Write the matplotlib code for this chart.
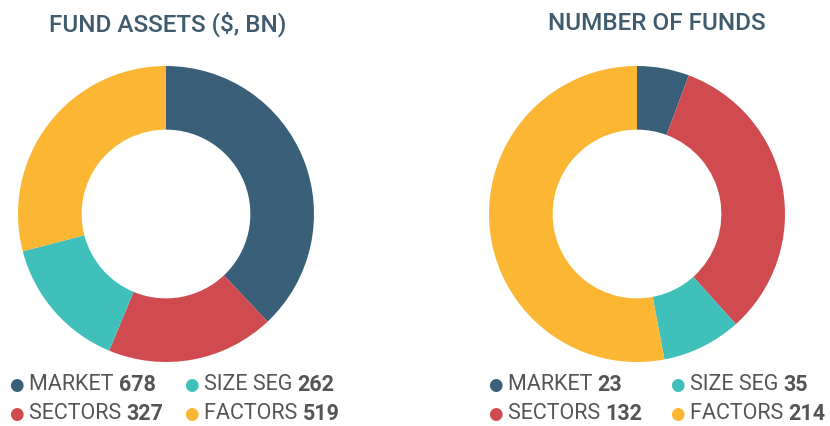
import matplotlib.pyplot as plt

categories = ["MARKET", "SECTORS", "SIZE SEG", "FACTORS"]
colors = ["#3a6079", "#d04b4f", "#3fc0bb", "#fbb634"]

assets = [678, 327, 262, 519]
funds = [23, 132, 35, 214]

titles = ["FUND ASSETS ($, BN)", "NUMBER OF FUNDS"]

# legend order in the picture: market, size seg / sectors, factors
legend_order = [0, 2, 1, 3]

plt.rcParams['font.family'] = ['Roboto', 'DejaVu Sans']

W, H = 830, 427
fig = plt.figure(figsize=(W / 100, H / 100), dpi=100)


def px_axes(x0, y0, w, h):
    return fig.add_axes([x0 / W, 1 - (y0 + h) / H, w / W, h / H])


def donut(values, cx, title, title_x, leg_x, col2_dx):
    ax = px_axes(cx - 148, 67, 296, 296)
    ax.pie(values, colors=colors, startangle=90, counterclock=False,
           radius=1, wedgeprops=dict(width=0.43, linewidth=0))
    ax.set_xlim(-1, 1)
    ax.set_ylim(-1, 1)
    ax.set_aspect('equal')
    ax.axis('off')

    fig.text(title_x / W, 1 - 24 / H, title, ha='center', va='center',
             fontsize=17.5, fontweight='medium', color="#3f5b6d")

    rows = [385, 414]
    for k, i in enumerate(legend_order):
        r, c = divmod(k, 2)
        x = leg_x + c * col2_dx
        y = rows[r]
        fig.text(x / W, 1 - y / H, "\u25CF", ha='center', va='center',
                 fontsize=12, color=colors[i], family='DejaVu Sans')
        t = fig.text((x + 13) / W, 1 - y / H, categories[i] + " ", ha='left',
                     va='center', fontsize=15.5, color="#555555")
        plt.annotate(str(values[i]), xy=(1, 0.5), xycoords=t, va='center',
                     ha='left', fontsize=15.5, fontweight='bold', color="#555555",
                     annotation_clip=False)


donut(assets, 166, titles[0], 168, 16, 175)
donut(funds, 637, titles[1], 657, 495, 182)

fig.savefig("out.png", dpi=100, facecolor="white")
